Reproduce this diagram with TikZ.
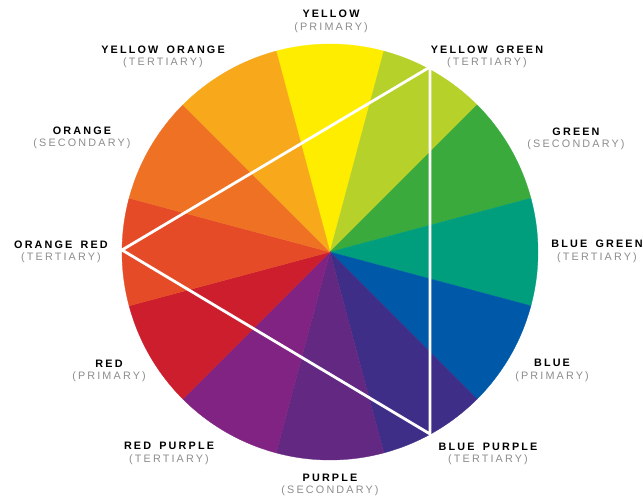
\documentclass[tikz,border=0pt]{standalone}
\usepackage{fontspec}
\setmainfont{Liberation Sans}
\newfontfamily\labfont[LetterSpace=20,WordSpace=1.6]{Liberation Sans}
\definecolor{cyellow}{HTML}{FFED00}
\definecolor{cyelgreen}{HTML}{B6D12A}
\definecolor{cgreen}{HTML}{3AAA3C}
\definecolor{cbluegreen}{HTML}{009E7D}
\definecolor{cblue}{HTML}{0058A9}
\definecolor{cbluepurple}{HTML}{3F2E87}
\definecolor{cpurple}{HTML}{622882}
\definecolor{credpurple}{HTML}{802383}
\definecolor{cred}{HTML}{CC1E2D}
\definecolor{corangered}{HTML}{E64B27}
\definecolor{corange}{HTML}{EE7124}
\definecolor{cyelorange}{HTML}{F8A81B}
\definecolor{labgray}{gray}{0.55}
\tikzset{
  tri/.style={white,line width=2.8pt,line join=miter},
  hue/.style={font=\labfont\fontsize{10.8}{12.5}\selectfont,align=center,inner sep=0pt},
}
\newcommand\huelab[2]{{\bfseries #1}\\{\color{labgray}#2}}

\begin{document}
\begin{tikzpicture}[x=1pt,y=1pt]
        \def\R{208pt}
        \useasboundingbox (0,0) rectangle (643,498);
        \coordinate (c) at (330,246);
        % zwoelf Farbsegmente
        \foreach \ang/\col in {90/cyellow,60/cyelgreen,30/cgreen,0/cbluegreen,
            -30/cblue,-60/cbluepurple,-90/cpurple,-120/credpurple,
            -150/cred,180/corangered,150/corange,120/cyelorange}
          \fill[\col,draw=\col,line width=0.3pt] (c) -- ++(\ang-15:\R)
            arc[start angle=\ang-15,end angle=\ang+15,radius=\R] -- cycle;
        % Dreieck der Tertiaerfarben
        \coordinate (or) at (122,248);
        \coordinate (yg) at (430,431);
        \coordinate (bp) at (430,64);
        \draw[tri] (or) -- (yg) -- (bp) -- cycle;
        % Beschriftungen
        \node[hue] (yel)   at (331,476.5) {\huelab{YELLOW}{(PRIMARY)}};
        \node[hue] (yelor) at (163,441)   {\huelab{YELLOW ORANGE}{(TERTIARY)}};
        \node[hue] (yelgr) at (487,441)   {\huelab{YELLOW GREEN}{(TERTIARY)}};
        \node[hue] (ora)   at (82,360)    {\huelab{ORANGE}{(SECONDARY)}};
        \node[hue] (gre)   at (576,359)   {\huelab{GREEN}{(SECONDARY)}};
        \node[hue] (orred) at (61,246)    {\huelab{ORANGE RED}{(TERTIARY)}};
        \node[hue] (blgr)  at (597,246.5) {\huelab{BLUE GREEN}{(TERTIARY)}};
        \node[hue] (red)   at (109,127)   {\huelab{RED}{(PRIMARY)}};
        \node[hue] (blu)   at (552,127.5) {\huelab{BLUE}{(PRIMARY)}};
        \node[hue] (redpu) at (169,44.5)  {\huelab{RED PURPLE}{(TERTIARY)}};
        \node[hue] (blpu)  at (488,44)    {\huelab{BLUE PURPLE}{(TERTIARY)}};
        \node[hue] (pur)   at (330,13)    {\huelab{PURPLE}{(SECONDARY)}};
      \end{tikzpicture}
\end{document}
